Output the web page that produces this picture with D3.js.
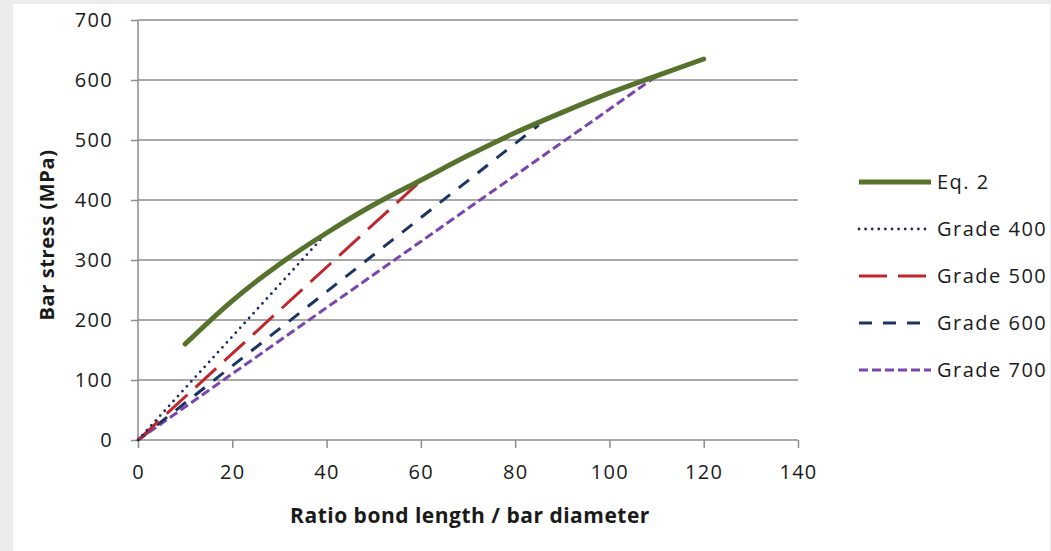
<!DOCTYPE html>
<html>
<head>
<meta charset="utf-8">
<script src="https://cdn.jsdelivr.net/npm/d3@7"></script>
<style>
  html, body { margin: 0; padding: 0; background: #ececec; }
  svg { display: block; }
  text { font-family: "Open Sans", Lato, sans-serif; fill: #1a1a1a; }
</style>
</head>
<body>
<svg id="chart" width="1051" height="551"></svg>
<script>
// ---- data ----
const xTicks = [0, 20, 40, 60, 80, 100, 120, 140];
const yTicks = [0, 100, 200, 300, 400, 500, 600, 700];
const eq2X = [10, 20, 30, 40, 50, 60, 70, 80, 90, 100, 110, 120];
const eq2Y = [160, 232, 293, 345, 392, 433, 474, 512, 546, 578, 607, 635];
const grade400 = [[0, 0], [40, 345]];
const grade500 = [[0, 0], [60, 432]];
const grade600 = [[0, 0], [85, 525]];
const grade700 = [[0, 0], [111, 612]];
const seriesNames = ["Eq. 2", "Grade 400", "Grade 500", "Grade 600", "Grade 700"];
const xTitle = "Ratio bond length / bar diameter";
const yTitle = "Bar stress (MPa)";

// ---- styles ----
const styles = [
  { color: "#56722d", width: 5, dash: null, cap: "round" },
  { color: "#1f2a66", width: 2.8, dash: "0,6.6", cap: "round" },
  { color: "#c0272d", width: 3, dash: "28,11", cap: "butt" },
  { color: "#1c3463", width: 3, dash: "13,11", cap: "butt" },
  { color: "#7b45b0", width: 3, dash: "9,4", cap: "butt" }
];

const svg = d3.select("#chart");
svg.append("rect").attr("x", 13).attr("y", 4).attr("width", 1037).attr("height", 547).attr("fill", "#fff");

const x = d3.scaleLinear().domain([0, 140]).range([138, 798]);
const y = d3.scaleLinear().domain([0, 700]).range([440, 20]);

// gridlines
svg.append("g").selectAll("line").data(yTicks.filter(d => d > 0)).join("line")
  .attr("x1", x(0)).attr("x2", x(140))
  .attr("y1", d => y(d)).attr("y2", d => y(d))
  .attr("stroke", "#8c8c8c").attr("stroke-width", 1.3);

// y axis
const yAxis = svg.append("g").attr("transform", `translate(${x(0)},0)`)
  .call(d3.axisLeft(y).tickValues(yTicks).tickSize(7).tickPadding(18));
// x axis
const xAxis = svg.append("g").attr("transform", `translate(0,${y(0)})`)
  .call(d3.axisBottom(x).tickValues(xTicks).tickSize(8).tickPadding(17));
[yAxis, xAxis].forEach(g => {
  g.selectAll(".domain, line").attr("stroke", "#8c8c8c").attr("stroke-width", 1.5);
  g.selectAll("text").style("font-size", "20px").style("letter-spacing", "1.3px").attr("fill", "#1a1a1a");
});
yAxis.select(".domain").attr("d", `M0,${y(0)}V${y(700)}`);
xAxis.select(".domain").attr("d", `M${x(0)},0H${x(140)}`);

// titles
svg.append("text").attr("x", 470).attr("y", 523).attr("text-anchor", "middle")
  .style("font-size", "21px").style("letter-spacing", "0.5px").style("font-weight", "bold").text(xTitle);
svg.append("text").attr("transform", `translate(54,235) rotate(-90)`).attr("text-anchor", "middle")
  .style("font-size", "20px").style("letter-spacing", "0.6px").style("font-weight", "bold").text(yTitle);

// lines
const line = d3.line().x(d => x(d[0])).y(d => y(d[1]));
const eq2Curve = d3.line().x(d => x(d[0])).y(d => y(d[1])).curve(d3.curveMonotoneX);
const allSeries = [eq2X.map((v, i) => [v, eq2Y[i]]), grade400, grade500, grade600, grade700];

const order = [4, 3, 2, 1, 0];
order.forEach(i => {
  const s = styles[i];
  svg.append("path").datum(allSeries[i])
    .attr("d", i === 0 ? eq2Curve : line)
    .attr("fill", "none").attr("stroke", s.color).attr("stroke-width", s.width)
    .attr("stroke-linecap", s.cap).attr("stroke-dasharray", s.dash);
});

// legend
const legendY = d3.scaleLinear().domain([0, 4]).range([182, 370]);
const leg = svg.append("g");
seriesNames.forEach((name, i) => {
  const s = styles[i];
  const yy = legendY(i);
  leg.append("line").attr("x1", 859).attr("x2", 931).attr("y1", yy).attr("y2", yy)
    .attr("stroke", s.color).attr("stroke-width", s.width)
    .attr("stroke-linecap", i === 0 ? "butt" : s.cap).attr("stroke-dasharray", s.dash);
  leg.append("text").attr("x", 937).attr("y", yy).attr("dy", "0.35em")
    .style("font-size", "20px").style("letter-spacing", "1.5px").text(name);
});
</script>
</body>
</html>
